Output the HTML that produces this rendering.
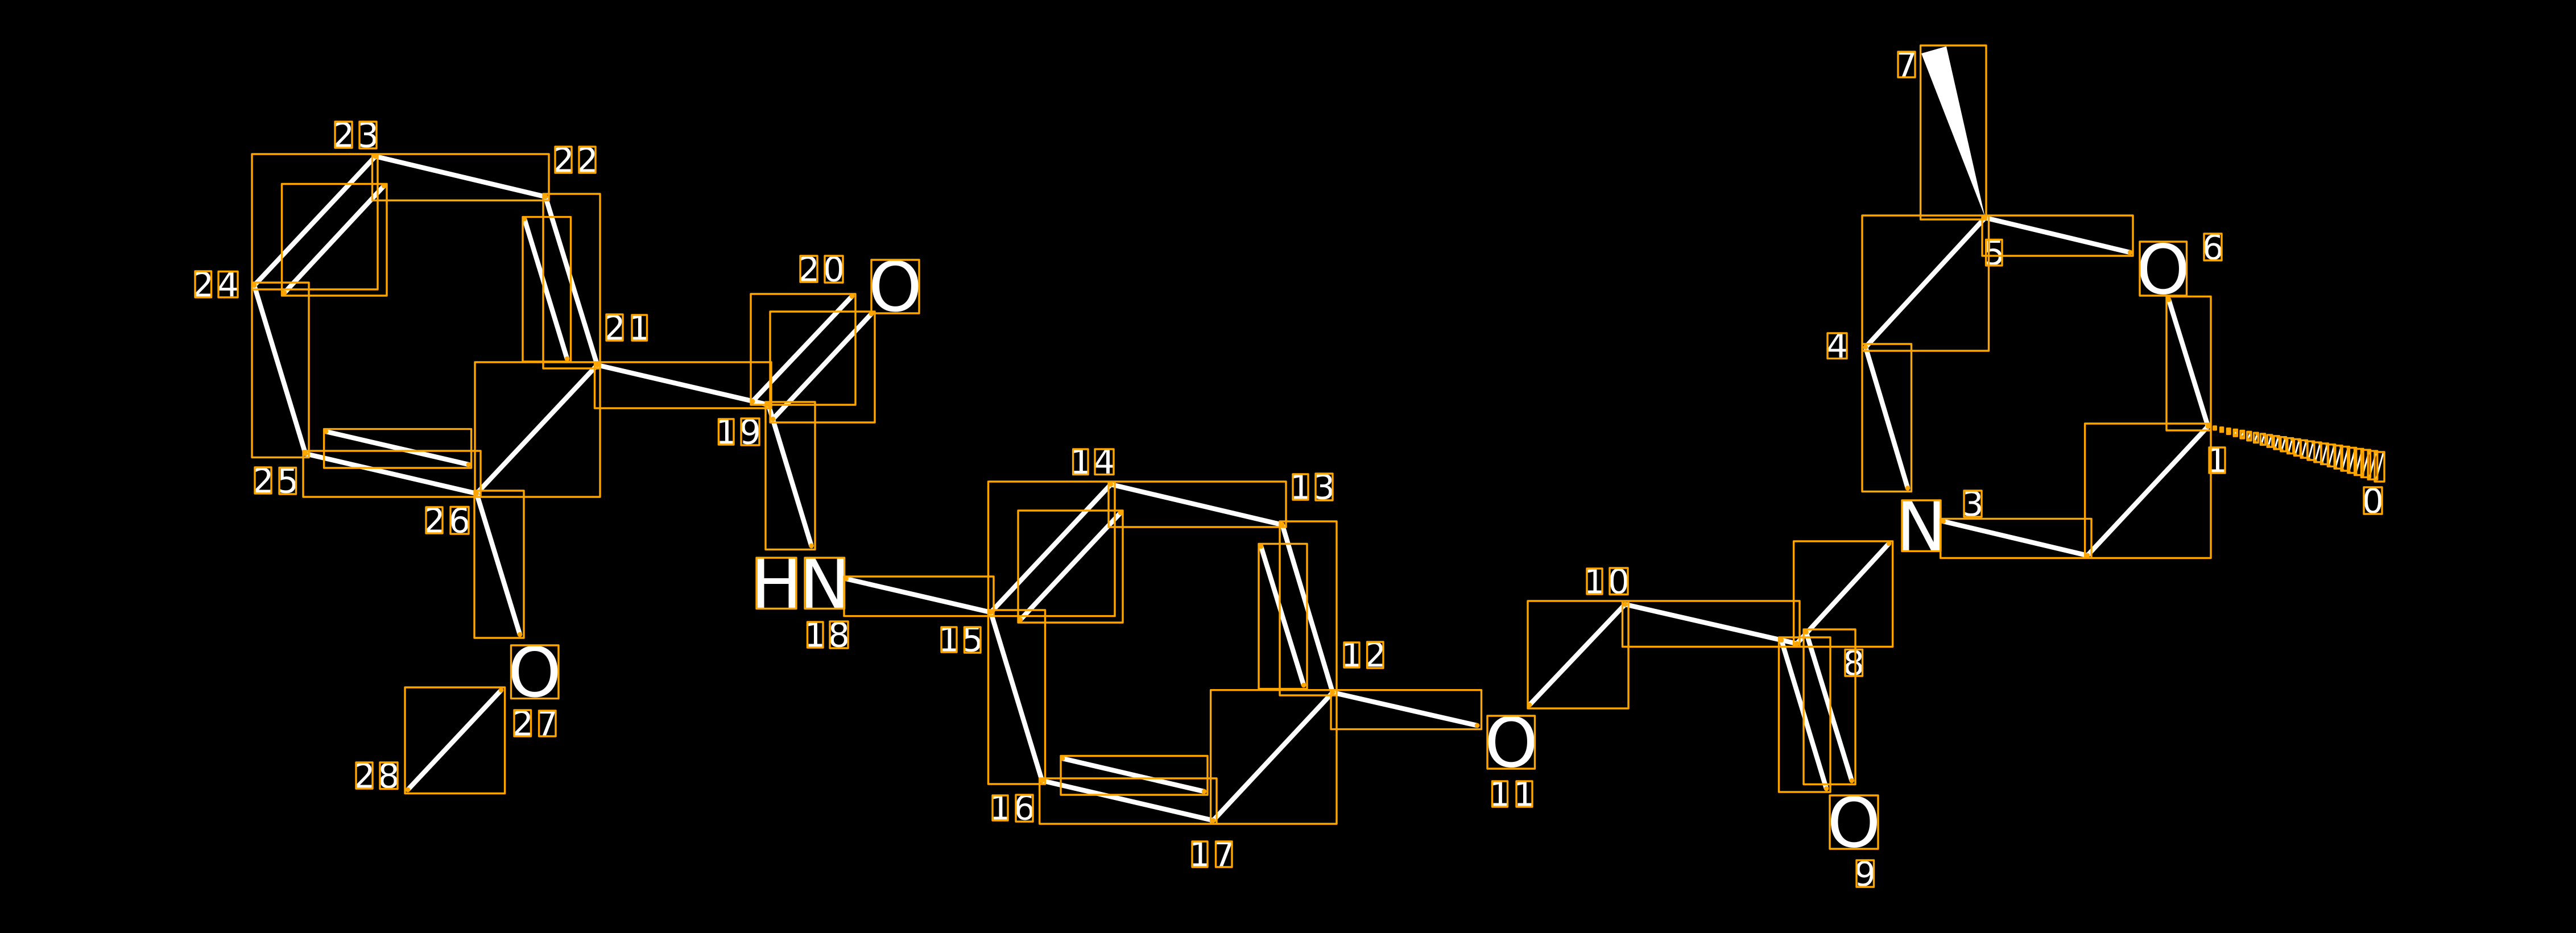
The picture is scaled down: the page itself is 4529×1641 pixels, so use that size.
<!DOCTYPE html>
<html><head><meta charset="utf-8"><style>html,body{margin:0;padding:0;background:#000}svg{display:block}text{font-family:"DejaVu Sans",sans-serif;fill:#fff;text-anchor:middle}.s{font-size:60px}.b{font-size:120px}</style></head><body>
<svg xmlns="http://www.w3.org/2000/svg" width="4529" height="1641" viewBox="0 0 4529 1641">
<rect width="4529" height="1641" fill="#000"/>
<polygon points="3490,382 3378,94 3422,81.5" fill="#fff"/>
<path fill="none" stroke="#fff" stroke-width="8.5" stroke-linecap="round" d="M3882 750L3813 527M3882 750L3670 977M3670 977L3416.6 917M3280 610.6L3354 858.5M3490 383L3280 610.6M3490 383L3745 444M3159 1132L3321 956M2857 1063L3159 1132M2857 1063L2689 1240M3132 1126L3211 1387M3175.5 1112L3255.6 1373M2343 1218L2597 1276M2254.5 923L2343 1218M2217 961L2292 1205M1953 852L2254.5 923M1953 852L1742 1077M1970 902L1794 1090M1742 1077L1487.5 1018M1742 1077L1832 1373M1832 1373L2133 1443M1868 1334L2117 1392M2133 1443L2343 1218M1351 712L1426.5 960M1050 642L1351 712M1323 706L1498 521M1359 737L1532 552M959 346L1050 642M922 385L997 631M660 275L959 346M660 275L447 502M675 327L500 515M447 502L537 798M537 798L838 868M573 759L824 817M838 868L1050 642M838 868L914 1116M881 1214L717 1389"/>
<path fill="none" stroke="#fff" stroke-width="3" d="M3894.3 751.9L3893.8 753.8M3906.6 753.8L3905.6 757.6M3919 755.6L3917.4 761.4M3931.3 757.5L3929.2 765.2M3943.6 759.4L3941 769M3955.9 761.3L3952.8 772.8M3968.2 763.2L3964.6 776.6M3980.6 765L3976.4 780.4M3992.9 766.9L3988.2 784.2M4005.2 768.8L4000 788M4017.5 770.7L4011.8 791.8M4029.8 772.6L4023.6 795.6M4042.2 774.4L4035.4 799.4M4054.5 776.3L4047.2 803.2M4066.8 778.2L4059 807M4079.1 780.1L4070.8 810.8M4091.4 782L4082.6 814.6M4103.8 783.8L4094.4 818.4M4116.1 785.7L4106.2 822.2M4128.4 787.6L4118 826M4140.7 789.5L4129.8 829.8M4153 791.4L4141.6 833.6M4165.4 793.2L4153.4 837.4M4177.7 795.1L4165.2 841.2M4190 797L4177 845"/>
<g class="s">
<text class="s" x="604" y="258.5">2</text><text class="s" x="647" y="258.5">3</text>
<text class="s" x="990.5" y="302.5">2</text><text class="s" x="1032.5" y="302.5">2</text>
<text class="s" x="1080.5" y="597.5">2</text><text class="s" x="1124" y="597.5">1</text>
<text class="s" x="357" y="521.5">2</text><text class="s" x="401" y="521.5">4</text>
<text class="s" x="462.5" y="866.5">2</text><text class="s" x="506" y="866.5">5</text>
<text class="s" x="763.5" y="936.5">2</text><text class="s" x="808" y="936.5">6</text>
<text class="s" x="919" y="1293.5">2</text><text class="s" x="962" y="1293.5">7</text>
<text class="s" x="640.5" y="1385.5">2</text><text class="s" x="683.5" y="1385.5">8</text>
<text class="s" x="1422" y="494.5">2</text><text class="s" x="1466" y="494.5">0</text>
<text class="s" x="1277" y="780.5">1</text><text class="s" x="1319" y="780.5">9</text>
<text class="s" x="1433" y="1137.5">1</text><text class="s" x="1475" y="1137.5">8</text>
<text class="s" x="1900" y="833">1</text><text class="s" x="1941.5" y="833">4</text>
<text class="s" x="2286.5" y="877.5">1</text><text class="s" x="2328" y="877.5">3</text>
<text class="s" x="2376.5" y="1172.5">1</text><text class="s" x="2418" y="1172.5">2</text>
<text class="s" x="1668.5" y="1145.5">1</text><text class="s" x="1710" y="1145.5">5</text>
<text class="s" x="1758.5" y="1441.5">1</text><text class="s" x="1801" y="1441.5">6</text>
<text class="s" x="2109.5" y="1523.5">1</text><text class="s" x="2152" y="1523.5">7</text>
<text class="s" x="2637" y="1417.5">1</text><text class="s" x="2680" y="1417.5">1</text>
<text class="s" x="2803.5" y="1043.5">1</text><text class="s" x="2846" y="1043.5">0</text>
<text class="s" x="3259" y="1187">8</text>
<text class="s" x="3279" y="1558">9</text>
<text class="s" x="3352" y="134.5">7</text>
<text class="s" x="3506" y="465.5">5</text>
<text class="s" x="3890.5" y="456">6</text>
<text class="s" x="3230" y="629">4</text>
<text class="s" x="3468.5" y="907">3</text>
<text class="s" x="3898" y="830.5">1</text>
<text class="s" x="4172" y="902">0</text>
</g>
<text class="b" x="1574" y="547">O</text>
<text class="b" x="940" y="1225">O</text>
<text class="b" x="1365" y="1069">H</text>
<text class="b" x="1450" y="1069">N</text>
<text class="b" x="2657" y="1348.5">O</text>
<text class="b" x="3259.5" y="1489.5">O</text>
<text class="b" x="3378" y="968">N</text>
<text class="b" x="3803" y="516.5">O</text>
<path fill="none" stroke="#ffa500" stroke-width="3.4" stroke-linejoin="round" d="M443 271H664V509H443ZM495.500 323.500H680V520H495.500ZM654.500 271H965V352.500H654.500ZM955 341H1055V648H955ZM919 381.600H1003.500V636H919ZM835 637H1055V874H835ZM1045.500 637H1356V718H1045.500ZM443 497H543V804.500H443ZM533 793H845V874H533ZM569.600 754.600H828.600V823H569.600ZM834 863H921V1122H834ZM1346 707H1433V966.500H1346ZM1320 517H1504V712H1320ZM1354 548H1538V743H1354ZM712 1209H887.600V1395.500H712ZM1484 1014H1747V1083.600H1484ZM1737.500 847H1960V1083.600H1737.500ZM1790 898H1974V1095H1790ZM1949 847H2261V927H1949ZM2250 917H2350V1223H2250ZM2213 956.500H2298V1211.600H2213ZM2128.600 1213.700H2350V1449H2128.600ZM2340 1213.700H2604.500V1282.600H2340ZM1737.500 1073H1837.500V1379H1737.500ZM1827.700 1369H2139V1449H1827.700ZM1865 1329.500H2123V1398H1865ZM2686 1057H2863V1246H2686ZM2852.500 1057H3164V1137.500H2852.500ZM3153.600 952H3327.600V1137.500H3153.600ZM3127.500 1121H3218V1393H3127.500ZM3171 1107H3262V1379.500H3171ZM3376.600 80H3492V386H3376.600ZM3274 379H3496.500V617H3274ZM3485 379H3750V450H3485ZM3809 521.500H3887V757H3809ZM3665.600 745H3887V981.500H3665.600ZM3411.700 912.400H3677V981.500H3411.700ZM3274 605H3360.500V864.500H3274Z"/>
<path fill="none" stroke="#ffa500" stroke-width="3.4" stroke-linejoin="round" d="M589 214H619V260H589ZM632 214H662V261H632ZM976 258H1005V304H976ZM1018 258H1047V304H1018ZM1066 553H1095V599H1066ZM1111 554H1137.500V599H1111ZM343 477H371.500V523H343ZM384 477.500H418V523H384ZM448 822H477V868H448ZM491 822.500H520.500V869H491ZM749 892H778V938H749ZM792 891.500H824V939H792ZM904 1249H933.500V1295H904ZM947.600 1250H977V1295H947.600ZM626 1341H655V1387H626ZM668 1341H699V1387.500H668ZM1407 450H1437V496H1407ZM1450 450H1482V497H1450ZM1263.400 737H1290V782H1263.400ZM1303 736H1335V783H1303ZM1419.500 1094H1447V1139H1419.500ZM1459 1093H1491V1140H1459ZM1886.600 790H1913V834.600H1886.600ZM1925 790H1958V834.600H1925ZM2273 834H2300V879H2273ZM2313 833H2343V880H2313ZM2363 1130H2390V1174H2363ZM2403.600 1129H2432V1175H2403.600ZM1655 1103H1682V1147H1655ZM1695.500 1103H1724V1148H1695.500ZM1745 1399H1772V1443H1745ZM1786 1398H1816V1445H1786ZM2096 1480H2123V1525H2096ZM2137.500 1480H2166V1525H2137.500ZM2623.500 1374H2650.500V1419H2623.500ZM2666 1374H2694V1419H2666ZM2790 1000H2817V1045H2790ZM2830 999H2862V1045.500H2830ZM3244 1142.400H3274.500V1189H3244ZM3264 1513H3294.500V1560H3264ZM3337 91H3367V136H3337ZM3491.600 421.500H3520V467H3491.600ZM3875 411H3906V458H3875ZM3213 586H3247V630.600H3213ZM3453 863H3484V909H3453ZM3884 787H3912V832H3884ZM4156 857H4188V904H4156ZM1532 457H1616V551H1532ZM898.500 1135H982V1228.600H898.500ZM1330 981H1400V1070.500H1330ZM1415 981H1484.600V1070.500H1415ZM2615 1259H2698.500V1352H2615ZM3217 1399H3302V1493H3217ZM3344 880H3412V969.400H3344ZM3762 425H3844.500V520H3762Z"/>
<path fill="none" stroke="#ffa500" stroke-width="3.4" stroke-linejoin="round" d="M3891.800 749.900H3896.300V755.800H3891.800ZM3903.600 751.800H3908.600V759.600H3903.600ZM3915.400 753.600H3921V763.400H3915.400ZM3927.200 755.500H3933.300V767.200H3927.200ZM3939 757.400H3945.600V771H3939ZM3950.800 759.300H3957.900V774.800H3950.800ZM3962.600 761.200H3970.200V778.600H3962.600ZM3974.400 763H3982.600V782.400H3974.400ZM3986.200 764.900H3994.900V786.200H3986.200ZM3998 766.800H4007.200V790H3998ZM4009.800 768.700H4019.500V793.800H4009.800ZM4021.600 770.600H4031.800V797.600H4021.600ZM4033.400 772.400H4044.200V801.400H4033.400ZM4045.200 774.300H4056.500V805.200H4045.200ZM4057 776.200H4068.800V809H4057ZM4068.800 778.100H4081.100V812.800H4068.800ZM4080.600 780H4093.400V816.600H4080.600ZM4092.400 781.800H4105.800V820.400H4092.400ZM4104.200 783.700H4118.100V824.200H4104.200ZM4116 785.600H4130.400V828H4116ZM4127.800 787.500H4142.700V831.800H4127.800ZM4139.600 789.400H4155V835.600H4139.600ZM4151.400 791.200H4167.400V839.400H4151.400ZM4163.200 793.100H4179.700V843.200H4163.200ZM4175 795H4192V847H4175Z"/>
<path fill="none" stroke="#ffa500" stroke-width="8.5" stroke-linecap="round" d="M3882 750h.01M3813 527h.01M3670 977h.01M3416.600 917h.01M3280 610.600h.01M3354 858.500h.01M3490 383h.01M3745 444h.01M3159 1132h.01M3321 956h.01M2857 1063h.01M2689 1240h.01M3132 1126h.01M3211 1387h.01M3175.500 1112h.01M3255.600 1373h.01M2343 1218h.01M2597 1276h.01M2254.500 923h.01M2217 961h.01M2292 1205h.01M1953 852h.01M1742 1077h.01M1970 902h.01M1794 1090h.01M1487.500 1018h.01M1832 1373h.01M2133 1443h.01M1868 1334h.01M2117 1392h.01M1351 712h.01M1426.500 960h.01M1050 642h.01M1323 706h.01M1498 521h.01M1359 737h.01M1532 552h.01M959 346h.01M922 385h.01M997 631h.01M660 275h.01M447 502h.01M675 327h.01M500 515h.01M537 798h.01M838 868h.01M573 759h.01M824 817h.01M914 1116h.01M881 1214h.01M717 1389h.01"/>
<path fill="none" stroke="#ffa500" stroke-width="6" stroke-linecap="round" d="M3894.300 751.900h.01M3906.600 753.800h.01M3905.600 757.600h.01M3919 755.600h.01M3917.400 761.400h.01M3931.300 757.500h.01M3929.200 765.200h.01M3943.600 759.400h.01M3941 769h.01M3955.900 761.300h.01M3952.800 772.800h.01M3968.200 763.200h.01M3964.600 776.600h.01M3980.600 765h.01M3976.400 780.400h.01M3992.900 766.900h.01M3988.200 784.200h.01M4005.200 768.800h.01M4000 788h.01M4017.500 770.700h.01M4011.800 791.800h.01M4029.800 772.600h.01M4023.600 795.600h.01M4042.200 774.400h.01M4035.400 799.400h.01M4054.500 776.300h.01M4047.200 803.200h.01M4066.800 778.200h.01M4059 807h.01M4079.100 780.100h.01M4070.800 810.800h.01M4091.400 782h.01M4082.600 814.600h.01M4103.800 783.800h.01M4094.400 818.400h.01M4116.100 785.700h.01M4106.200 822.200h.01M4128.400 787.600h.01M4118 826h.01M4140.700 789.500h.01M4129.800 829.800h.01M4153 791.400h.01M4141.600 833.600h.01M4165.400 793.200h.01M4153.400 837.400h.01M4177.700 795.100h.01M4165.200 841.200h.01"/>
</svg>
</body></html>
